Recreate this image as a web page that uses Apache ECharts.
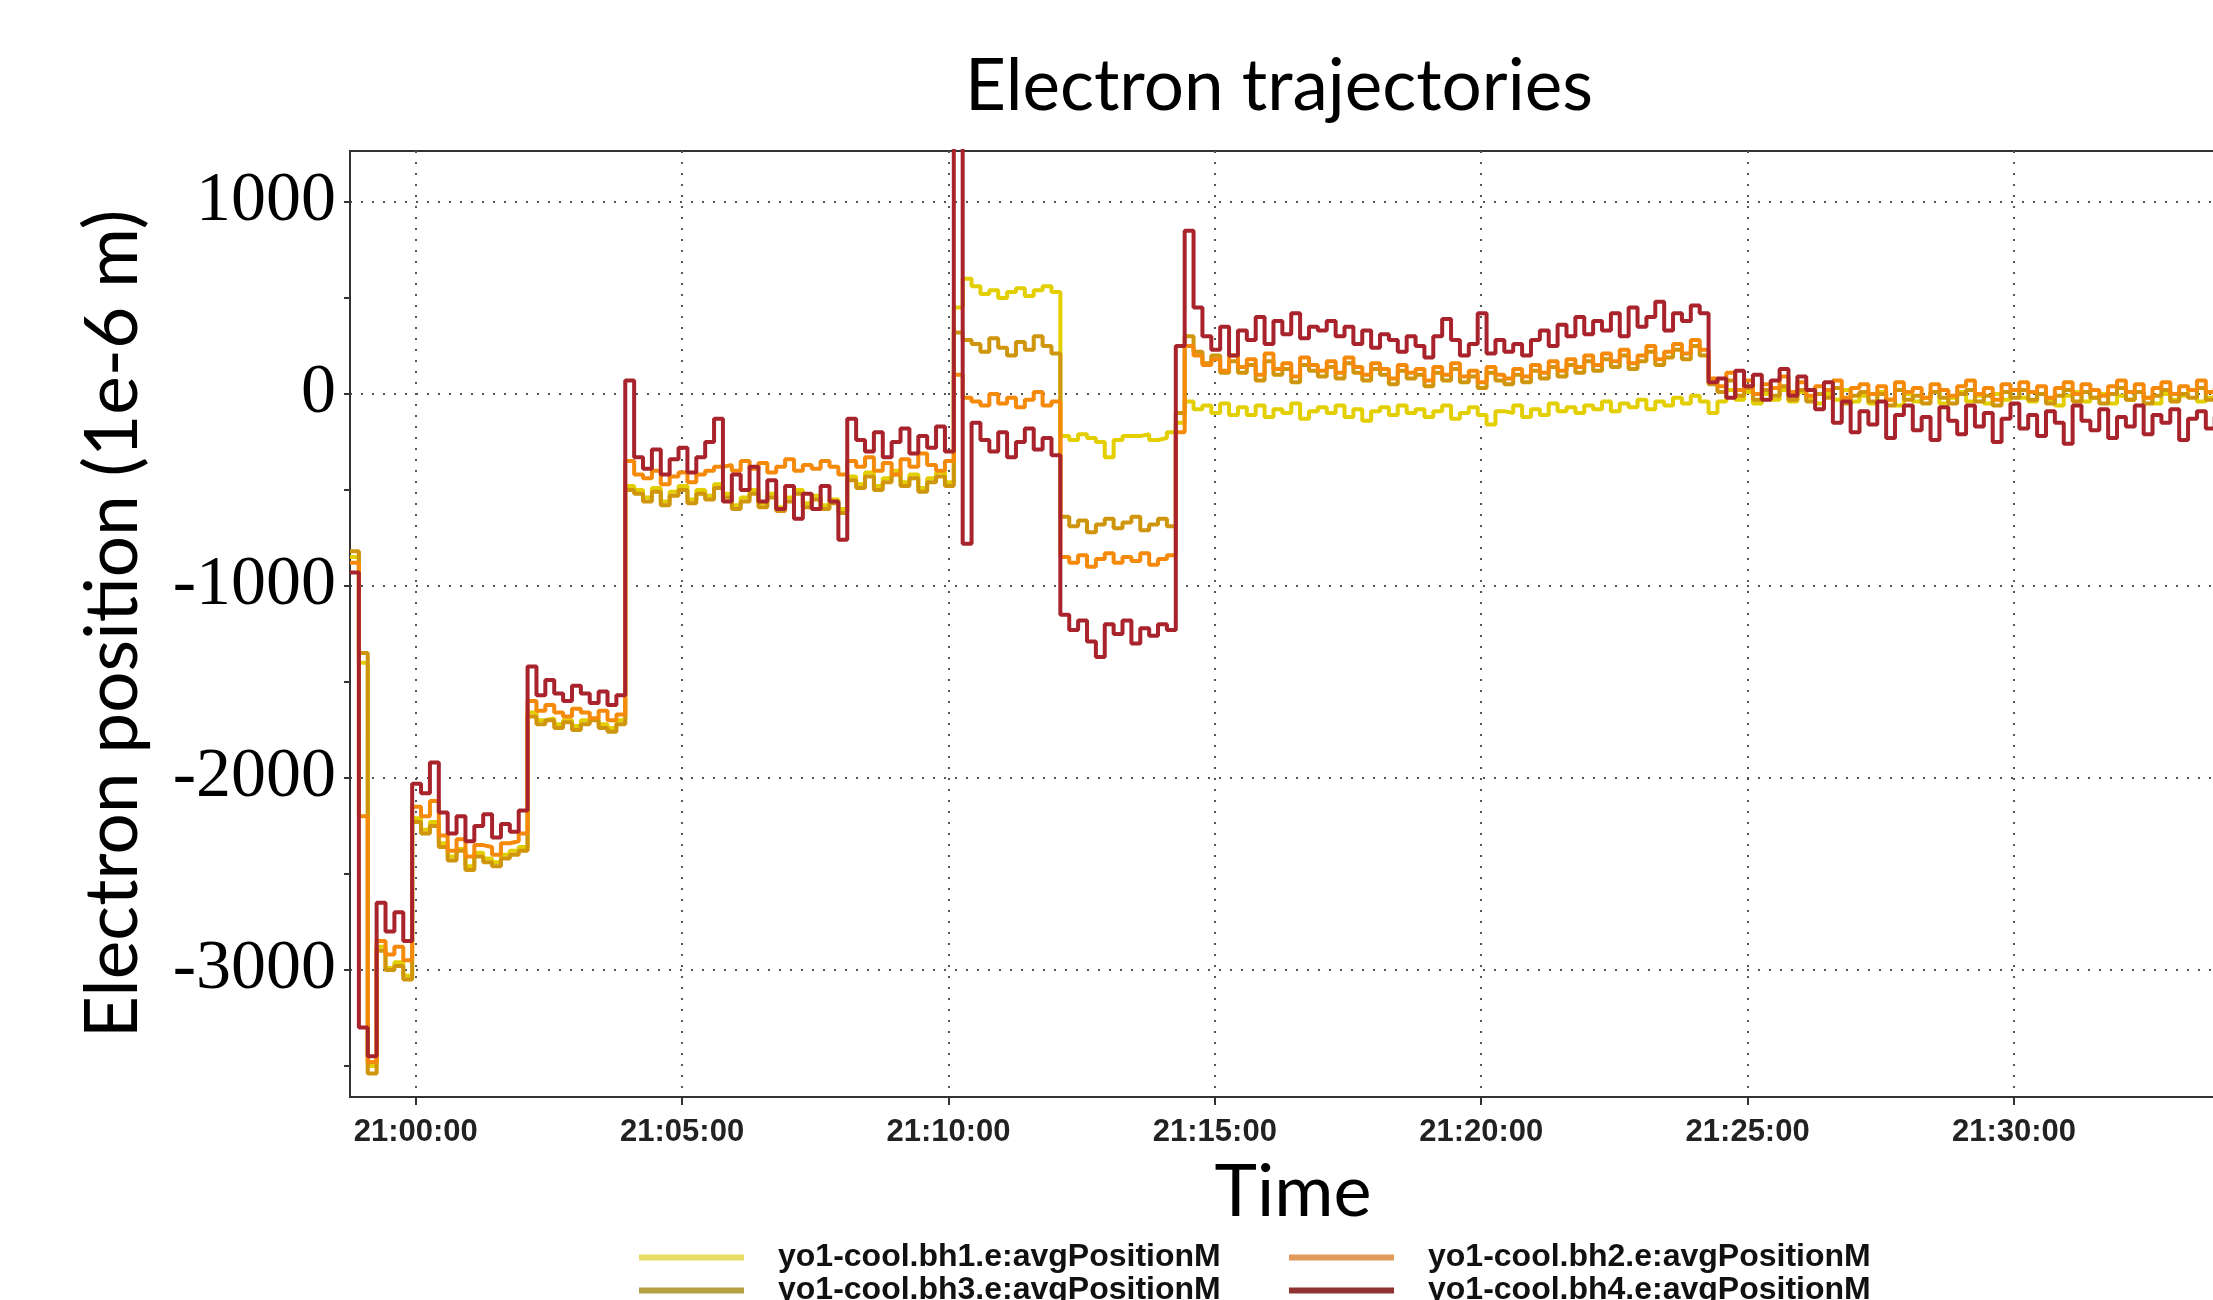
<!DOCTYPE html>
<html><head><meta charset="utf-8">
<script src="https://cdn.jsdelivr.net/npm/echarts@6/dist/echarts.min.js"></script>
<style>html,body{margin:0;padding:0;background:#fff}#c{width:2213px;height:1300px}</style>
</head><body><div id="c"></div>
<script>
// Sampling grid: seconds relative to 21:00:00, first sample 20:58:46, one sample per 10 s
const startSec = -74;
const stepSec = 10;
const seriesNames = ['yo1-cool.bh1.e:avgPositionM','yo1-cool.bh2.e:avgPositionM','yo1-cool.bh3.e:avgPositionM','yo1-cool.bh4.e:avgPositionM'];
const xTickValues = [0,300,600,900,1200,1500,1800];
const yLabelValues = [-3000,-2000,-1000,0,1000];
const yMinorTickValues = [-3500,-3000,-2500,-2000,-1500,-1000,-500,0,500,1000];

const bh1 = [
-850,-1400,-3500,-2880,-2990,-2960,-3030,-2210,-2270,-2230,
-2340,-2410,-2370,-2460,-2390,-2420,-2440,-2400,-2380,-2360,
-1660,-1700,-1690,-1720,-1700,-1730,-1700,-1690,-1720,-1740,
-1700,-480,-500,-540,-490,-560,-510,-480,-550,-500,
-530,-470,-520,-580,-540,-500,-570,-520,-590,-540,
-500,-570,-530,-580,-550,-600,-430,-470,-410,-480,
-440,-400,-460,-420,-490,-440,-410,-460,450,600,
560,520,540,500,530,550,510,540,560,530,
-220,-240,-210,-230,-250,-330,-240,-220,-220,-210,
-240,-230,-200,-150,-40,-80,-60,-100,-50,-110,
-70,-110,-60,-120,-80,-100,-50,-130,-90,-70,
-100,-60,-120,-80,-140,-90,-70,-110,-60,-100,
-80,-120,-90,-60,-130,-100,-70,-110,-160,-90,
-100,-60,-120,-80,-110,-50,-90,-70,-100,-60,
-80,-40,-90,-50,-70,-30,-80,-40,-60,-20,
-50,-10,-40,-100,-40,20,-30,10,-50,0,
-30,20,-40,10,-20,-50,0,-30,20,-40,
-10,-50,10,-30,-60,0,-40,-20,10,-50,
-20,10,-40,-10,-50,0,-30,20,-20,-40,
0,-30,-60,-10,10,-40,-20,0,-50,-10,
-30,10,-20,-50,0,-30,-10,20,-40,-20,0,-30,-10
];
const bh2 = [
-880,-2200,-3480,-2850,-2920,-2880,-2950,-2150,-2200,-2120,
-2300,-2380,-2320,-2410,-2350,-2360,-2400,-2340,-2330,-2290,
-1600,-1650,-1620,-1660,-1680,-1640,-1660,-1690,-1650,-1700,
-1670,-350,-420,-440,-400,-470,-430,-410,-460,-420,
-400,-380,-370,-400,-350,-390,-360,-410,-380,-340,
-400,-370,-390,-350,-380,-420,-350,-380,-330,-400,
-360,-420,-340,-380,-310,-370,-400,-350,100,-20,
-40,-60,0,-50,-20,-70,-30,10,-60,-40,
-850,-880,-840,-900,-860,-830,-880,-850,-870,-830,
-890,-860,-840,-200,250,200,150,180,120,200,
140,180,100,210,130,160,90,190,150,120,
170,110,190,140,100,160,130,80,150,110,
130,70,140,100,160,90,120,60,140,100,
80,130,90,150,110,170,120,180,140,200,
150,210,170,230,160,200,250,180,220,260,
210,280,230,80,40,110,20,70,0,50,
30,90,10,60,-10,40,20,70,-20,30,
50,0,40,-30,60,10,30,-20,50,20,
-10,40,70,0,30,-30,50,20,60,10,
40,-20,30,60,0,50,20,-10,40,70,
10,50,-20,30,60,0,40,20,70,10,30,20,40
];
const bh3 = [
-820,-1350,-3540,-2900,-3000,-2980,-3050,-2230,-2290,-2250,
-2360,-2430,-2380,-2480,-2410,-2440,-2460,-2420,-2400,-2380,
-1680,-1720,-1700,-1740,-1710,-1750,-1720,-1700,-1740,-1760,
-1720,-500,-520,-560,-510,-580,-530,-500,-570,-520,
-550,-490,-540,-600,-560,-520,-590,-540,-610,-560,
-520,-590,-550,-600,-570,-620,-450,-490,-430,-500,
-460,-420,-480,-440,-510,-460,-430,-480,320,280,
260,220,290,240,200,270,230,300,250,210,
-640,-690,-660,-720,-680,-650,-700,-670,-640,-710,
-680,-650,-690,-100,300,220,160,200,110,170,
110,150,70,170,100,130,60,150,120,90,
140,80,160,110,70,130,100,50,120,80,
100,40,110,70,130,60,90,30,110,70,
50,100,60,120,80,140,90,150,110,170,
120,180,140,200,130,170,220,150,190,230,
180,250,200,50,10,70,-10,30,-30,20,
-10,40,-30,20,-40,0,-20,30,-50,-10,
10,-40,0,-60,20,-30,-10,-50,10,-20,
-50,0,20,-40,-10,-60,10,-20,20,-30,
0,-50,-10,20,-40,10,-20,-50,0,30,
-30,10,-50,-10,20,-40,0,-20,30,-30,-10,-20,0
];
const bh4 = [
-930,-3300,-3450,-2650,-2800,-2700,-2850,-2030,-2080,-1920,
-2180,-2290,-2200,-2330,-2250,-2190,-2310,-2240,-2280,-2170,
-1420,-1570,-1490,-1560,-1600,-1520,-1560,-1610,-1550,-1620,
-1570,70,-330,-390,-290,-420,-340,-280,-410,-330,
-250,-130,-560,-420,-500,-380,-560,-450,-600,-480,
-650,-520,-600,-480,-560,-760,-130,-240,-300,-200,
-330,-250,-180,-310,-220,-280,-170,-300,1500,-780,
-150,-240,-300,-200,-330,-250,-180,-290,-230,-320,
-1150,-1230,-1180,-1290,-1370,-1200,-1250,-1180,-1300,-1220,
-1260,-1200,-1230,250,850,450,300,230,350,200,
330,280,400,260,380,310,420,290,350,330,
380,300,350,260,330,240,310,280,220,300,
250,190,300,390,280,200,260,420,210,280,
220,260,200,280,330,250,360,300,400,310,
380,330,420,300,450,350,400,480,330,420,
380,460,420,60,80,-20,120,40,100,-30,
70,130,-10,90,20,-80,60,-150,-40,-200,
-90,-160,-40,-230,-110,-60,-190,-120,-240,-70,
-140,-210,-60,-170,-100,-250,-130,-50,-180,-110,
-220,-90,-150,-260,-60,-140,-190,-80,-230,-120,
-170,-60,-210,-110,-150,-80,-240,-130,-90,-180,-120,-140,-90
];

const lineColors = {bh1:'#e3cf00', bh2:'#f58a0a', bh3:'#cf950c', bh4:'#a8232b'};
const legendColors = {bh1:'#e6dc66', bh2:'#e29a5a', bh3:'#b5a043', bh4:'#8e3232'};

function toPairs(vals){ return vals.map((v,i)=>[startSec + i*stepSec, v]); }
function fmtTime(s){
  const t = 21*3600 + s;
  const h = Math.floor(t/3600), m = Math.floor((t%3600)/60), sec = t%60;
  const p = n => (n<10?'0':'')+n;
  return p(h)+':'+p(m)+':'+p(sec);
}
function mkSeries(name, vals, color){
  return {name:name, type:'line', step:'end', data:toPairs(vals), showSymbol:false, symbol:'none',
    lineStyle:{color:color, width:4}, itemStyle:{color:color}, clip:true, yAxisIndex:0};
}
const legendText = {fontFamily:'Liberation Sans', fontWeight:'bold', fontSize:32, color:'#111', padding:[0,0,0,29], lineHeight:33};

const chart = echarts.init(document.getElementById('c'), null, {renderer:'canvas'});
chart.setOption({
  animation:false,
  backgroundColor:'#ffffff',
  title:{text:'Electron trajectories', left:1274, top:42, textAlign:'center',
    textStyle:{fontFamily:'Lato', fontWeight:'normal', fontSize:71, color:'#000', lineHeight:80}},
  grid:{left:350, top:151, width:1886, bottom:203, outerBoundsMode:'none', containLabel:false,
    show:true, borderColor:'#333', borderWidth:2, backgroundColor:'transparent'},
  legend:[
    {data:[{name:seriesNames[0], itemStyle:{color:legendColors.bh1}},{name:seriesNames[2], itemStyle:{color:legendColors.bh3}}],
     orient:'vertical', left:639, top:1241, height:120, padding:0, icon:'rect', itemWidth:105, itemHeight:6, itemGap:0, textStyle:legendText},
    {data:[{name:seriesNames[1], itemStyle:{color:legendColors.bh2}},{name:seriesNames[3], itemStyle:{color:legendColors.bh4}}],
     orient:'vertical', left:1289, top:1241, height:120, padding:0, icon:'rect', itemWidth:105, itemHeight:6, itemGap:0, textStyle:legendText}
  ],
  xAxis:{type:'value', min:-74, max:2050,
    name:'Time', nameLocation:'middle', nameGap:60,
    nameTextStyle:{fontFamily:'Lato', fontSize:72, color:'#000'},
    axisLine:{show:true, onZero:false, lineStyle:{color:'#333', width:2}},
    axisTick:{show:true, customValues:xTickValues, length:8, lineStyle:{color:'#333', width:2}},
    axisLabel:{customValues:xTickValues, formatter:fmtTime, margin:20,
      fontFamily:'Liberation Sans', fontWeight:'bold', fontSize:31, color:'#222'},
    splitLine:{show:true, lineStyle:{type:[2,9], color:'#555', width:2}}
  },
  yAxis:[
    {type:'value', min:-3662, max:1265, position:'left',
     name:'Electron position (1e-6 m)', nameLocation:'middle', nameRotate:90, nameGap:200,
     nameTextStyle:{fontFamily:'Lato', fontSize:73, color:'#000'},
     axisLine:{show:true, onZero:false, lineStyle:{color:'#333', width:2}},
     axisTick:{show:true, customValues:yLabelValues, length:6, lineStyle:{color:'#333', width:2}},
     axisLabel:{customValues:yLabelValues, margin:14, formatter:v => String(v),
       fontFamily:'Liberation Serif', fontSize:70, color:'#000'},
     splitLine:{show:true, lineStyle:{type:[2,9], color:'#555', width:2}}
    },
    {type:'value', min:-3662, max:1265, position:'left', offset:0,
     axisLine:{show:false, onZero:false}, axisLabel:{show:false}, splitLine:{show:false},
     axisTick:{show:true, customValues:yMinorTickValues, length:6, lineStyle:{color:'#333', width:2}}
    }
  ],
  series:[
    mkSeries(seriesNames[0], bh1, lineColors.bh1),
    mkSeries(seriesNames[2], bh3, lineColors.bh3),
    mkSeries(seriesNames[1], bh2, lineColors.bh2),
    mkSeries(seriesNames[3], bh4, lineColors.bh4)
  ]
});
</script></body></html>
